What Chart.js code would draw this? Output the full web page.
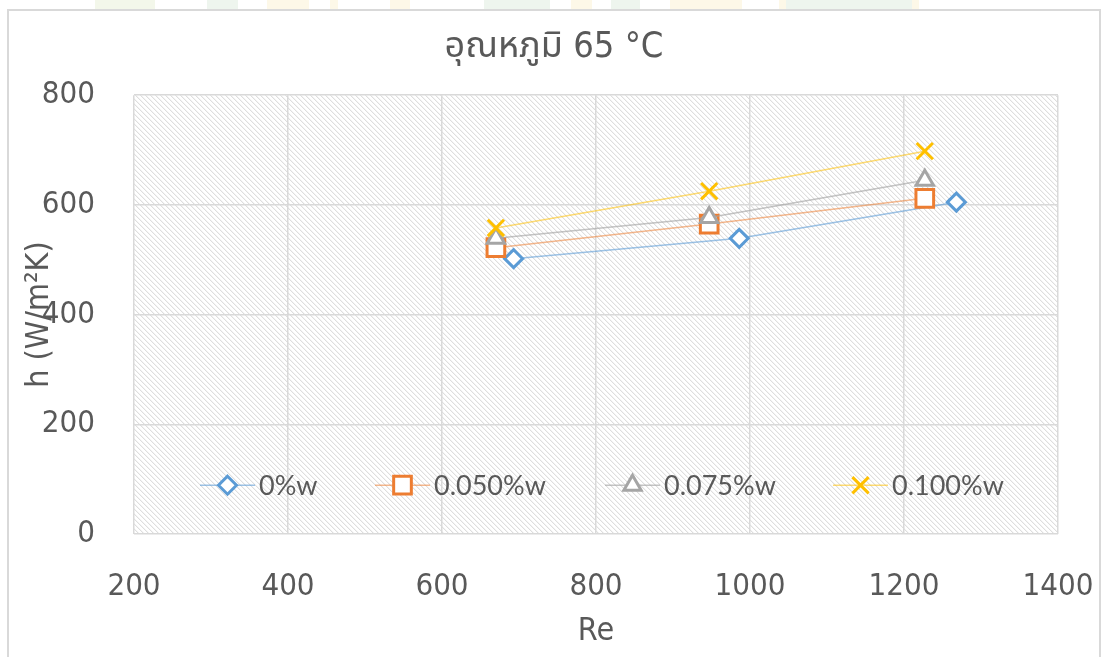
<!DOCTYPE html>
<html>
<head>
<meta charset="utf-8">
<script src="https://cdn.jsdelivr.net/npm/chart.js@4/dist/chart.umd.min.js"></script>
<style>
  html, body { margin: 0; padding: 0; background: #ffffff; }
  #wrap { width: 1102px; height: 657px; }
</style>
</head>
<body>
<div id="wrap"><canvas id="c" width="1102" height="657"></canvas></div>
<script>
// Reynolds number (x) and heat transfer coefficient h (y) per concentration
const seriesNames = ['0%w', '0.050%w', '0.075%w', '0.100%w'];
const re0   = [693, 986, 1268];
const h0    = [502, 539, 605];
const re050 = [670, 947, 1227];
const h050  = [522, 565, 612];
const re075 = [670, 947, 1227];
const h075  = [539, 577, 645];
const re100 = [670, 947, 1227];
const h100  = [558, 625, 698];

const xTicks = [200, 400, 600, 800, 1000, 1200, 1400];
const yTicks = [0, 200, 400, 600, 800];

const chartTitle = 'อุณหภูมิ 65 °C';
const xTitle = 'Re';
const yTitle = 'h (W/m²K)';

const TEXT = '#595959';
const GRID = '#d9d9d9';
const NARROW = "'Liberation Sans Narrow', 'DejaVu Sans Condensed', 'Noto Sans Thai', 'Noto Sans', sans-serif";

const pts = (xs, ys) => xs.map((x, i) => ({ x, y: ys[i] }));

const styles = [
  { marker: '#5b9bd5', line: 'rgba(91,155,213,0.6)',  pointStyle: 'rectRot',  radius: 9 },
  { marker: '#ed7d31', line: 'rgba(237,125,49,0.55)', pointStyle: 'rect',     radius: 12.5 },
  { marker: '#a5a5a5', line: 'rgba(165,165,165,0.65)', pointStyle: 'triangle', radius: 10 },
  { marker: '#ffc000', line: 'rgba(255,192,0,0.55)',  pointStyle: 'crossRot', radius: 11.5 }
];
const seriesData = [pts(re0, h0), pts(re050, h050), pts(re075, h075), pts(re100, h100)];

// later series are painted over earlier ones
const datasets = seriesData.map((d, i) => ({
  label: seriesNames[i],
  data: d,
  order: seriesData.length - 1 - i,
  showLine: true,
  borderColor: styles[i].line,
  borderWidth: 1.5,
  pointStyle: styles[i].pointStyle,
  pointRadius: styles[i].radius,
  pointHoverRadius: styles[i].radius,
  pointBorderColor: styles[i].marker,
  pointBackgroundColor: '#ffffff',
  pointBorderWidth: 3
}));

// Diagonal hatch tile used for the plot area
function hatchPattern(ctx) {
  const n = 5;
  const tile = document.createElement('canvas');
  tile.width = n; tile.height = n;
  const t = tile.getContext('2d');
  t.fillStyle = '#ffffff';
  t.fillRect(0, 0, n, n);
  for (let i = 0; i < n; i++) {
    t.fillStyle = 'rgb(222,222,222)';
    t.fillRect(i, i, 1, 1);
    t.fillStyle = 'rgb(244,244,244)';
    t.fillRect((i + 1) % n, i, 1, 1);
  }
  return ctx.createPattern(tile, 'repeat');
}

const backdrop = {
  id: 'backdrop',
  beforeDraw(chart) {
    const { ctx, chartArea: a, width, height } = chart;
    ctx.save();
    ctx.fillStyle = '#ffffff';
    ctx.fillRect(0, 0, width, height);
    // faint page decoration above the chart frame
    const strip = [
      [95, 60, '#f3f7ea'], [207, 31, '#eef5ee'], [267, 42, '#fdf8e8'], [330, 8, '#fdf8e8'],
      [390, 20, '#fdf8e8'], [484, 66, '#eef5ee'], [571, 21, '#fdf8e8'], [611, 29, '#eef5ee'],
      [670, 72, '#fdf8e8'], [779, 7, '#fdf8e8'], [786, 126, '#eef5ee'], [912, 7, '#fdf8e8']
    ];
    strip.forEach(([x, w, c]) => { ctx.fillStyle = c; ctx.fillRect(x, 0, w, 9); });
    // chart frame
    ctx.strokeStyle = GRID;
    ctx.lineWidth = 2;
    ctx.strokeRect(8, 10, 1092, 700);
    // hatched plot area
    ctx.fillStyle = hatchPattern(ctx);
    ctx.fillRect(a.left, a.top, a.right - a.left, a.bottom - a.top);
    ctx.restore();
  }
};

function drawMarker(ctx, style, x, y, r) {
  ctx.beginPath();
  if (style === 'rectRot') {
    ctx.moveTo(x, y - r); ctx.lineTo(x + r, y); ctx.lineTo(x, y + r); ctx.lineTo(x - r, y); ctx.closePath();
    ctx.fill(); ctx.stroke();
  } else if (style === 'rect') {
    const s = r * Math.SQRT1_2;
    ctx.rect(x - s, y - s, 2 * s, 2 * s);
    ctx.fill(); ctx.stroke();
  } else if (style === 'triangle') {
    const a = 2 * Math.PI / 3;
    ctx.moveTo(x, y - r);
    ctx.lineTo(x + Math.sin(a) * r, y - Math.cos(a) * r);
    ctx.lineTo(x + Math.sin(2 * a) * r, y - Math.cos(2 * a) * r);
    ctx.closePath();
    ctx.fill(); ctx.stroke();
  } else if (style === 'crossRot') {
    const s = r * Math.SQRT1_2;
    ctx.moveTo(x - s, y - s); ctx.lineTo(x + s, y + s);
    ctx.moveTo(x - s, y + s); ctx.lineTo(x + s, y - s);
    ctx.stroke();
  }
}

// Legend drawn inside the plot area: line sample, marker, label
const legendOffsets = [66, 241, 471, 699];
const insideLegend = {
  id: 'insideLegend',
  afterDatasetsDraw(chart) {
    const { ctx, chartArea: a } = chart;
    ctx.save();
    ctx.font = "27px Lato, 'Noto Sans', sans-serif";
    ctx.textBaseline = 'middle';
    ctx.textAlign = 'left';
    const y = a.top + 390;
    chart.data.datasets.forEach((ds, i) => {
      const st = styles[i];
      const x = a.left + legendOffsets[i];
      ctx.strokeStyle = st.line;
      ctx.lineWidth = 1.5;
      ctx.beginPath(); ctx.moveTo(x, y); ctx.lineTo(x + 55, y); ctx.stroke();
      ctx.fillStyle = '#ffffff';
      ctx.strokeStyle = st.marker;
      ctx.lineWidth = 3;
      drawMarker(ctx, st.pointStyle, x + 27.5, y, st.radius);
      ctx.fillStyle = TEXT;
      ctx.fillText(ds.label, x + 59, y + 1);
    });
    ctx.restore();
  }
};

new Chart(document.getElementById('c'), {
  type: 'scatter',
  data: { datasets },
  plugins: [backdrop, insideLegend],
  options: {
    responsive: false,
    animation: false,
    devicePixelRatio: 1,
    layout: { padding: { left: 8, top: 10, right: 2, bottom: 0 } },
    plugins: {
      legend: { display: false },
      tooltip: { enabled: false },
      title: {
        display: true,
        text: chartTitle,
        color: TEXT,
        font: { family: NARROW, size: 36, weight: 'normal' },
        padding: { top: 16, bottom: 26 },
        fullSize: true
      }
    },
    scales: {
      x: {
        type: 'linear',
        min: xTicks[0],
        max: xTicks[xTicks.length - 1],
        afterBuildTicks(scale) { scale.ticks = xTicks.map(v => ({ value: v })); },
        afterFit(scale) { scale.height = 123; scale.paddingLeft = 0; scale.paddingRight = 44; },
        grid: { color: GRID, lineWidth: 1.5, drawTicks: false },
        border: { display: false },
        ticks: {
          color: TEXT, padding: 34, maxRotation: 0,
          font: { family: NARROW, size: 31 },
          callback: v => String(v)
        },
        title: {
          display: true, text: xTitle, color: TEXT,
          font: { family: NARROW, size: 32 }, padding: { top: 0, bottom: 6 }
        }
      },
      y: {
        type: 'linear',
        min: yTicks[0],
        max: yTicks[yTicks.length - 1],
        afterBuildTicks(scale) { scale.ticks = yTicks.map(v => ({ value: v })); },
        afterFit(scale) { scale.width = 126; },
        grid: { color: GRID, lineWidth: 1.5, drawTicks: false },
        border: { display: false },
        ticks: {
          color: TEXT, padding: 39,
          font: { family: NARROW, size: 31 },
          callback: v => String(v)
        },
        title: {
          display: true, text: yTitle, color: TEXT,
          font: { family: NARROW, size: 32 }, padding: { top: 12, bottom: 0 }
        }
      }
    }
  }
});
</script>
</body>
</html>
